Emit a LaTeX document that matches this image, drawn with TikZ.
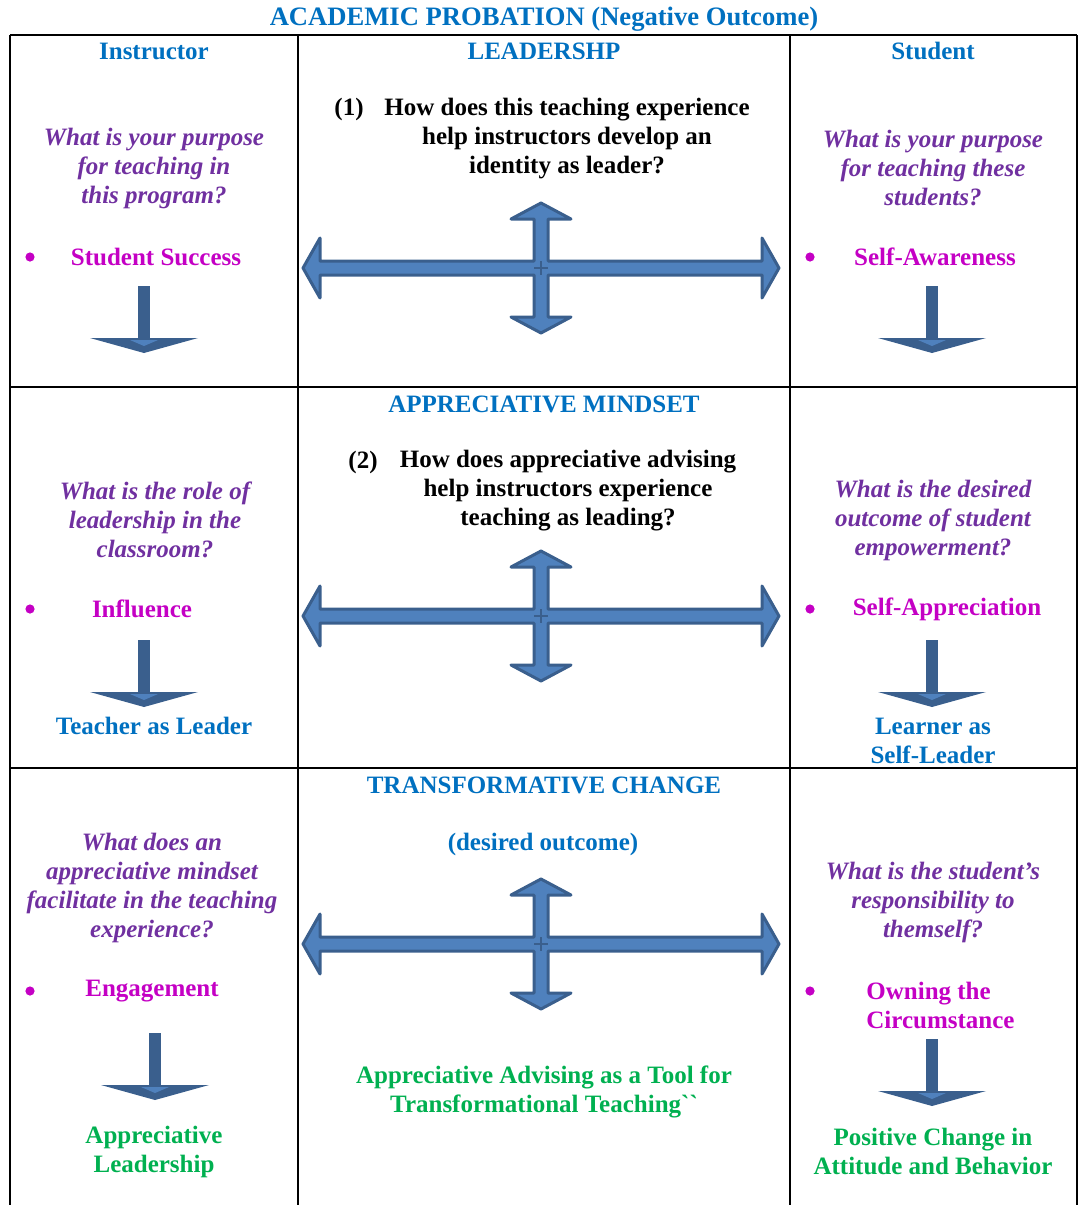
\documentclass[tikz,border=0pt]{standalone}
\usepackage{fontspec}
\setmainfont{Liberation Serif}
\usepackage{xcolor}
\usepackage{tikz}
\usetikzlibrary{positioning}

\definecolor{headblue}{HTML}{0070C0}
\definecolor{askpurple}{HTML}{7030A0}
\definecolor{keymagenta}{HTML}{C400C4}
\definecolor{goalgreen}{HTML}{00B050}
\definecolor{arrowdark}{HTML}{3A5F8D}
\definecolor{arrowfill}{HTML}{4F81BD}

\newcommand{\cellfont}{\fontsize{12.5}{14.5}\selectfont\bfseries}

\tikzset{
    every node/.style={font=\cellfont, inner sep=0pt},
    heading/.style={text=headblue},
    question/.style={text=black, align=center},
    askline/.style={text=askpurple, font=\cellfont\itshape, align=center},
    keyword/.style={text=keymagenta, align=center},
    bulletdot/.style={circle, fill=keymagenta, minimum size=4.6pt},
    result/.style={text=headblue, align=center},
    goal/.style={text=goalgreen, align=center},
    gridline/.style={line width=1pt},
    downarrow/.pic={
        \fill[arrowdark] (-6,0) rectangle (6,52);
        \fill[arrowdark] (-54,52) -- (54,52) -- (0,67) -- cycle;
        \fill[arrowfill] (-14,54) -- (14,54) -- (0,60) -- cycle;
    },
    crossarrow/.pic={
        \draw[arrowdark, fill=arrowfill, line width=1.5pt, line join=round]
            (-238,0) -- (-221,-30) -- (-221,-7) -- (-7,-7) -- (-7,-49) -- (-30,-49)
            -- (0,-65) -- (30,-49) -- (7,-49) -- (7,-7) -- (221,-7) -- (221,-30)
            -- (238,0) -- (221,30) -- (221,7) -- (7,7) -- (7,49) -- (30,49)
            -- (0,65) -- (-30,49) -- (-7,49) -- (-7,7) -- (-221,7) -- (-221,30) -- cycle;
        \draw[arrowdark, line width=0.6pt] (0,-7) -- (0,7) (-7,0) -- (7,0);
    }
}

\begin{document}
\begin{tikzpicture}[x=0.5pt, y=-0.5pt]
    \useasboundingbox (0,0) rectangle (1079,1205);

    % table frame
    \draw[gridline] (10,35) -- (1077,35);
    \draw[gridline] (10,387) -- (1077,387);
    \draw[gridline] (10,768) -- (1077,768);
    \foreach \xx in {10,298,790,1077}
        \draw[gridline] (\xx,35) -- (\xx,1205);

    % headings
    \node [heading, font=\fontsize{13.3}{15}\selectfont\bfseries] (title) at (544,19) {ACADEMIC PROBATION (Negative Outcome)};
    \node [heading] (instr) at (154,51) {Instructor};
    \node [heading] (lead) at (544,51) {LEADERSHP};
    \node [heading] (stud) at (933,51) {Student};
    \node [heading] (mind) at (544,404) {APPRECIATIVE MINDSET};
    \node [heading] (trans) at (544,785) {TRANSFORMATIVE CHANGE};
    \node [heading] (desired) at (543,844) {(desired outcome)};

    % row 1
    \node [question] (q1num) at (349,109) {(1)};
    \node [question] (q1) at (567,138.5) {How does this teaching experience\\help instructors develop an\\identity as leader?};
    \node [askline] (ask1l) at (154,168) {What is your purpose\\for teaching in\\this program?};
    \node [askline] (ask1r) at (933,168) {What is your purpose\\for teaching these\\students?};
    \node [bulletdot] (dot1l) at (30,257) {};
    \node [keyword] (key1l) at (156,257) {Student Success};
    \node [bulletdot] (dot1r) at (810,257) {};
    \node [keyword] (key1r) at (935,257) {Self-Awareness};
    \pic at (144,286) {downarrow};
    \pic at (932,286) {downarrow};
    \pic at (541,268) {crossarrow};

    % row 2
    \node [question] (q2num) at (363,462) {(2)};
    \node [question] (q2) at (568,491) {How does appreciative advising\\help instructors experience\\teaching as leading?};
    \node [askline] (ask2l) at (155,520) {What is the role of\\leadership in the\\classroom?};
    \node [askline] (ask2r) at (933,520) {What is the desired\\outcome of student\\empowerment?};
    \node [bulletdot] (dot2l) at (30,609) {};
    \node [keyword] (key2l) at (142,609) {Influence};
    \node [bulletdot] (dot2r) at (810,609) {};
    \node [keyword] (key2r) at (947,609) {Self-Appreciation};
    \pic at (144,640) {downarrow};
    \pic at (932,640) {downarrow};
    \pic at (541,616) {crossarrow};
    \node [result] (res2l) at (154,726) {Teacher as Leader};
    \node [result] (res2r) at (933,740.5) {Learner as\\Self-Leader};

    % row 3
    \node [askline] (ask3l) at (152,887.5) {What does an\\appreciative mindset\\facilitate in the teaching\\experience?};
    \node [askline] (ask3r) at (933,902) {What is the student’s\\responsibility to\\themself?};
    \node [bulletdot] (dot3l) at (30,991) {};
    \node [keyword] (key3l) at (152,991) {Engagement};
    \node [bulletdot] (dot3r) at (810,991) {};
    \node [keyword, anchor=west, align=left] (key3r) at (866,1005.5) {Owning the\\Circumstance};
    \pic at (155,1033) {downarrow};
    \pic at (932,1039) {downarrow};
    \pic at (541,944) {crossarrow};
    \node [goal] (res3c) at (544,1091.5) {Appreciative Advising as a Tool for\\Transformational Teaching\textasciigrave\textasciigrave};
    \node [goal] (res3l) at (154,1151.5) {Appreciative\\Leadership};
    \node [goal] (res3r) at (933,1151.5) {Positive Change in\\Attitude and Behavior};
\end{tikzpicture}
\end{document}
